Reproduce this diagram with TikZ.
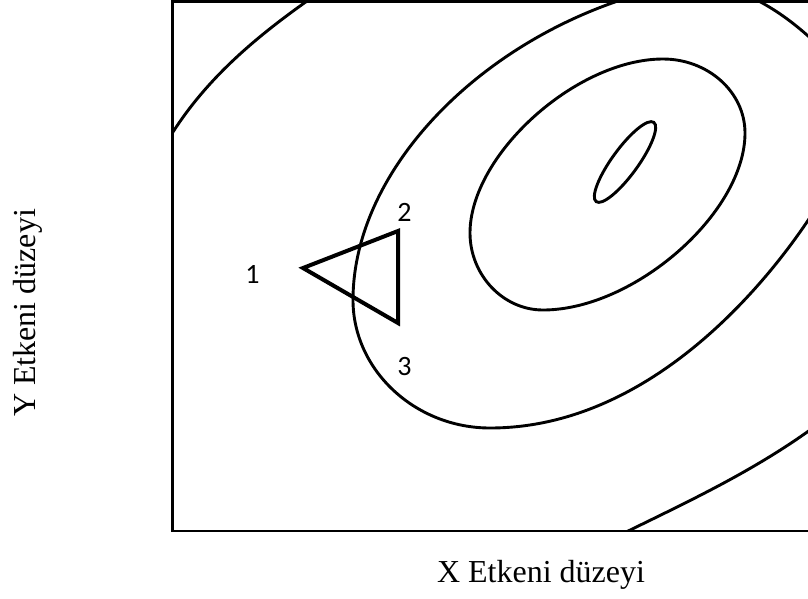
\documentclass[tikz,border=0pt]{standalone}
\usepackage{fontspec}
\setmainfont{Liberation Serif}
\newfontfamily\numfont{Carlito}
\begin{document}
\begin{tikzpicture}[x=1pt,y=-1pt,
  contour/.style={line width=2.9pt, black},
  framebox/.style={line width=2.8pt, black},
  tri/.style={line width=4pt, black, line join=miter},
  axislabel/.style={inner sep=0pt, font=\fontsize{32}{37}\selectfont},
  numlabel/.style={inner sep=0pt, font=\numfont\fontsize{28}{32}\selectfont}]
\useasboundingbox (0,0) rectangle (808,598);
\fill[white] (0,0) rectangle (808,598);
\begin{scope}
\clip (172.5,1.5) rectangle (808,531);
% innermost ellipse
\draw[contour, rotate around={54:(625,162)}] (625,162) ellipse [x radius=49pt, y radius=13pt];
% middle contour
\draw[contour] (663,59) .. controls (708,59) and (745,92) .. (745,133)
  .. controls (745,213) and (634,310) .. (543,310)
  .. controls (503,310) and (470,275) .. (470,233)
  .. controls (470,155) and (576,59) .. cycle;
% third contour (through the triangle)
\draw[contour] (640,-6) .. controls (480,40) and (353,170) .. (353,300)
  .. controls (353,370) and (415,428) .. (490,428)
  .. controls (670,428) and (795,245) .. (824,195);
\draw[contour] (740,-8) .. controls (770,5) and (795,22) .. (825,52);
% outer contour
\draw[contour] (165,145) .. controls (200,85) and (250,40) .. (320,-8);
\draw[contour] (610,540) .. controls (680,505) and (760,470) .. (830,415);
\end{scope}
% frame (right side lies outside the picture)
\draw[framebox] (815,1.5) -- (172.5,1.5) -- (172.5,531) -- (815,531);
% simplex triangle
\coordinate (t1) at (303,268);
\coordinate (t2) at (398,231);
\coordinate (t3) at (398,323);
\draw[tri] (t1) -- (t2) -- (t3) -- cycle;
\node[numlabel] (n1) at (252.5,274) {1};
\node[numlabel] (n2) at (404.5,212) {2};
\node[numlabel] (n3) at (404.5,367) {3};
\node[axislabel, anchor=base] (xlab) at (541,582) {X Etkeni düzeyi};
\node[axislabel, rotate=90, anchor=base] (ylab) at (35,313) {Y Etkeni düzeyi};
\end{tikzpicture}
\end{document}
